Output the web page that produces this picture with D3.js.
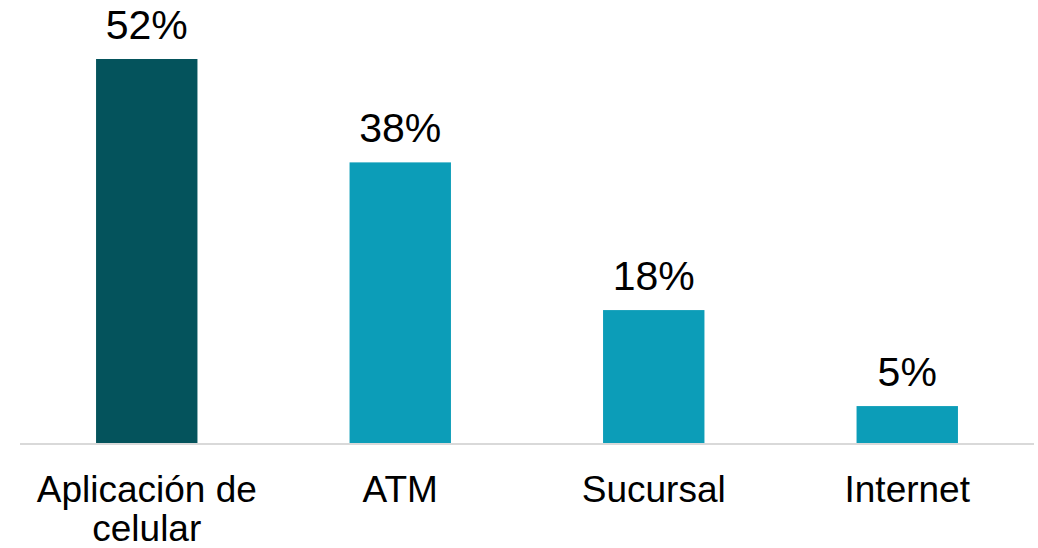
<!DOCTYPE html>
<html>
<head>
<meta charset="utf-8">
<script src="https://cdn.jsdelivr.net/npm/d3@7"></script>
<style>
  body { margin: 0; background: #fff; }
  text { font-family: Arial, "Liberation Sans", sans-serif; fill: #000; }
</style>
</head>
<body>
<div id="chart"></div>
<script>
const categories = [['Aplicación de', 'celular'], ['ATM'], ['Sucursal'], ['Internet']];
const values = [52, 38, 18, 5];
const colors = ['#04535c', '#0c9db8', '#0c9db8', '#0c9db8'];

const width = 1038, height = 548;
const margin = {top: 59, right: 4, bottom: 105, left: 20};
const baseline = height - margin.bottom;

const svg = d3.select('#chart').append('svg')
	.attr('width', width)
	.attr('height', height);

const keys = categories.map(c => c.join(' '));

const xScale = d3.scaleBand()
	.domain(keys)
	.range([margin.left, width - margin.right])
	.paddingInner(0.6)
	.paddingOuter(0.3);

const yScale = d3.scaleLinear()
	.domain([0, d3.max(values)])
	.range([baseline, margin.top]);

// bars
svg.selectAll('.bar')
	.data(values)
	.enter()
	.append('rect')
	.attr('class', 'bar')
	.attr('x', (d, i) => xScale(keys[i]))
	.attr('y', d => yScale(d))
	.attr('width', xScale.bandwidth())
	.attr('height', d => baseline - yScale(d))
	.attr('fill', (d, i) => colors[i]);

// value labels
svg.selectAll('.label')
	.data(values)
	.enter()
	.append('text')
	.attr('class', 'label')
	.attr('x', (d, i) => xScale(keys[i]) + xScale.bandwidth() / 2)
	.attr('y', d => yScale(d) - 20)
	.attr('text-anchor', 'middle')
	.style('font-size', '41px')
	.text(d => d + '%');

// baseline
svg.append('line')
	.attr('x1', margin.left)
	.attr('x2', width - margin.right)
	.attr('y1', baseline + 1)
	.attr('y2', baseline + 1)
	.attr('stroke', '#d9d9d9')
	.attr('stroke-width', 2);

// category labels
const cats = svg.selectAll('.cat')
	.data(categories)
	.enter()
	.append('text')
	.attr('class', 'cat')
	.attr('text-anchor', 'middle')
	.style('font-size', '37px');

cats.selectAll('tspan')
	.data((d, i) => d.map(line => ({line, i})))
	.enter()
	.append('tspan')
	.attr('x', d => xScale(keys[d.i]) + xScale.bandwidth() / 2)
	.attr('y', (d, j) => 502 + j * 39)
	.text(d => d.line);
</script>
</body>
</html>
